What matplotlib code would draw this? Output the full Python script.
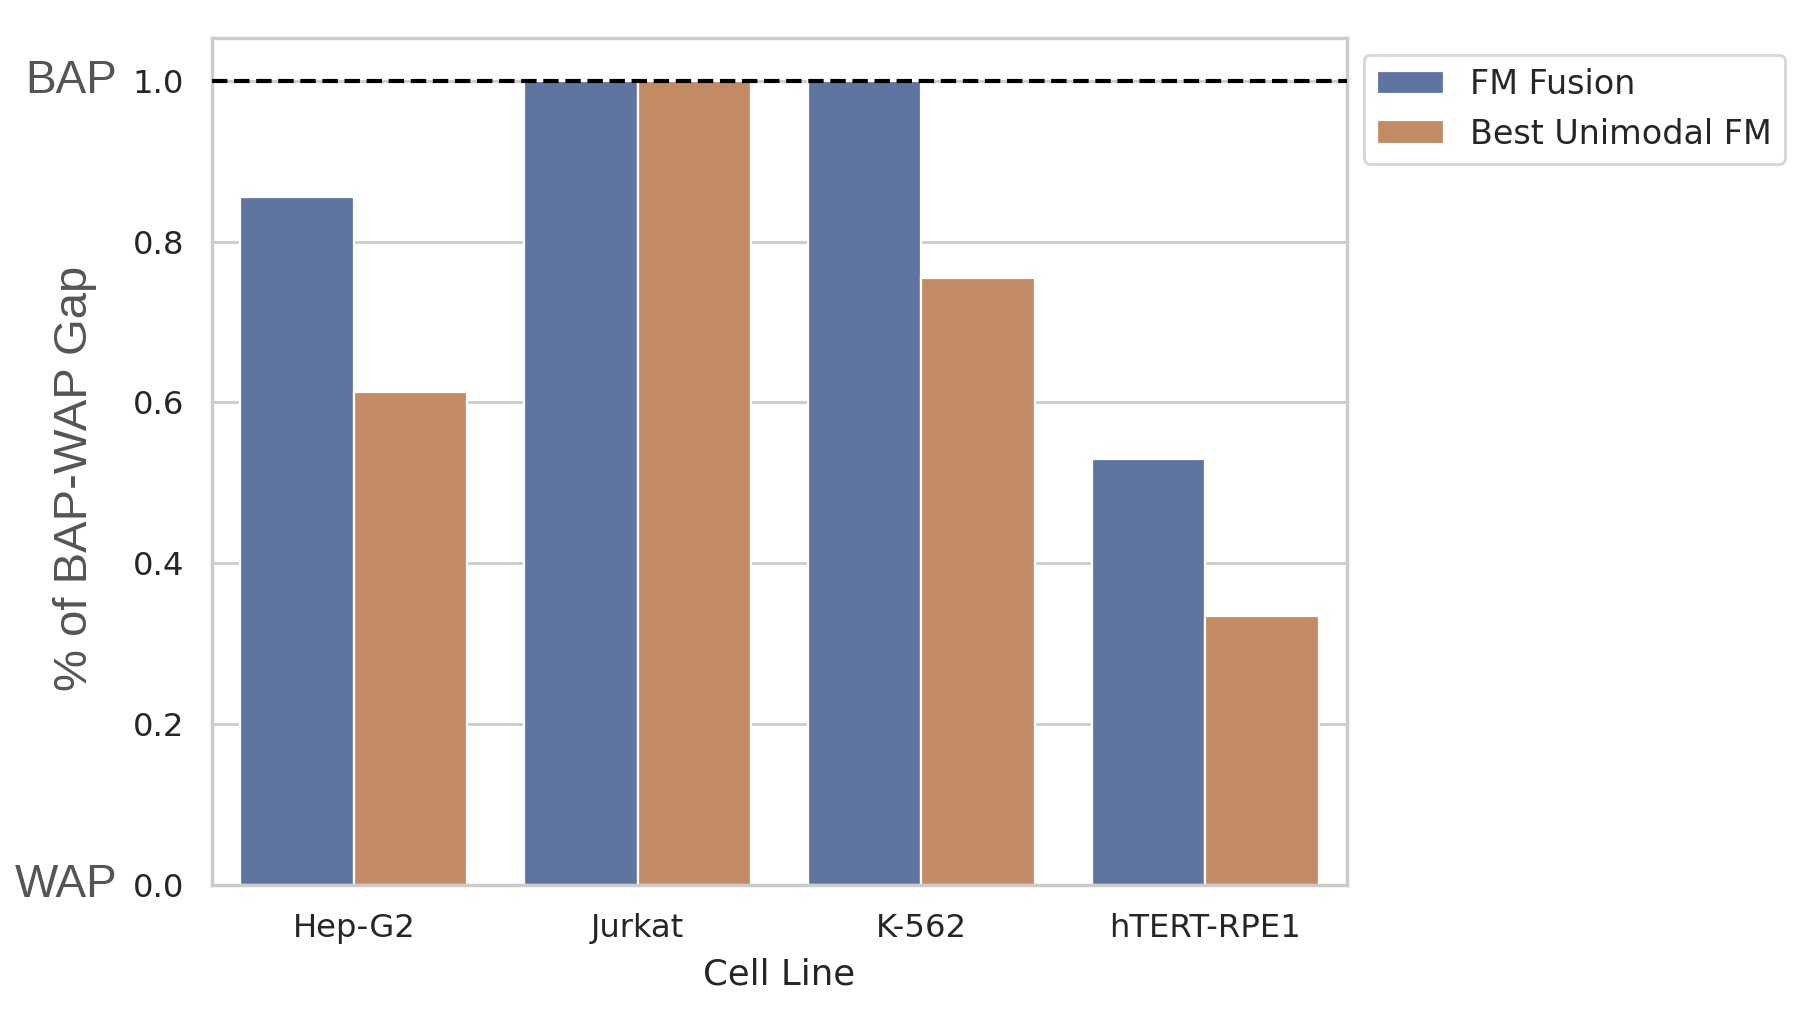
import matplotlib
matplotlib.use("Agg")
import matplotlib.pyplot as plt
import matplotlib.transforms as mtransforms
import numpy as np

# data
cell_lines = ["Hep-G2", "Jurkat", "K-562", "hTERT-RPE1"]
fm_fusion = [0.855, 1.0, 1.0, 0.529]
best_unimodal = [0.613, 1.0, 0.755, 0.334]
series_names = ["FM Fusion", "Best Unimodal FM"]
series_colors = ["#5f74a0", "#c28b65"]
yticks = [0.0, 0.2, 0.4, 0.6, 0.8, 1.0]

plt.rcParams['font.family'] = ['DejaVu Sans']
plt.rcParams['text.color'] = '#262626'
plt.rcParams['axes.labelcolor'] = '#262626'
plt.rcParams['xtick.color'] = '#262626'
plt.rcParams['ytick.color'] = '#262626'

fig = plt.figure(figsize=(9.02, 5.05), dpi=200)
ax = fig.add_axes([212 / 1804, 1 - 885 / 1010, (1347 - 212) / 1804, (885 - 38) / 1010])

x = np.arange(len(cell_lines))
w = 0.4
for i, (vals, name, col) in enumerate(zip([fm_fusion, best_unimodal], series_names, series_colors)):
    ax.bar(x + (i - 0.5) * w, vals, width=w, color=col, edgecolor='white',
           linewidth=0.8, label=name, zorder=2)

# best achievable performance line
ax.axhline(1.0, color='black', linestyle='--', linewidth=1.5, zorder=3)

ax.set_xlim(-0.5, len(cell_lines) - 0.5)
ax.set_ylim(0, 1.053)
ax.set_xticks(x)
ax.set_xticklabels(cell_lines, fontsize=11.6)
ax.set_yticks(yticks)
ax.set_yticklabels([f"{t:.1f}" for t in yticks], fontsize=11.6)
ax.tick_params(axis='both', length=0)
ax.tick_params(axis='y', pad=10)
ax.tick_params(axis='x', pad=10)

ax.set_axisbelow(True)
ax.grid(axis='y', color='#cccccc', linewidth=1.0)
ax.grid(axis='x', visible=False)
for s in ax.spines.values():
    s.set_color('#cccccc')
    s.set_linewidth(1.25)

ax.set_xlabel("Cell Line", fontsize=12.8, labelpad=5)
ax.set_ylabel("% of BAP-WAP Gap", fontsize=17, color='#555555',
              fontfamily='Liberation Sans')
ax.yaxis.set_label_coords(-0.101, 0.4805)

trans = mtransforms.blended_transform_factory(ax.transAxes, ax.transData)
ax.text(-0.0837, 1.0, "BAP", transform=trans, ha='right', va='center',
        fontsize=16.5, color='#555555', fontfamily='Liberation Sans')
ax.text(-0.0837, 0.0, "WAP", transform=trans, ha='right', va='center',
        fontsize=16.5, color='#555555', fontfamily='Liberation Sans')

leg = ax.legend(loc='upper left', bbox_to_anchor=(1.0, 1.0), fontsize=12,
                frameon=True, fancybox=True)
leg.get_frame().set_edgecolor('#cccccc')

fig.savefig("out.png", dpi=200, facecolor='white')
